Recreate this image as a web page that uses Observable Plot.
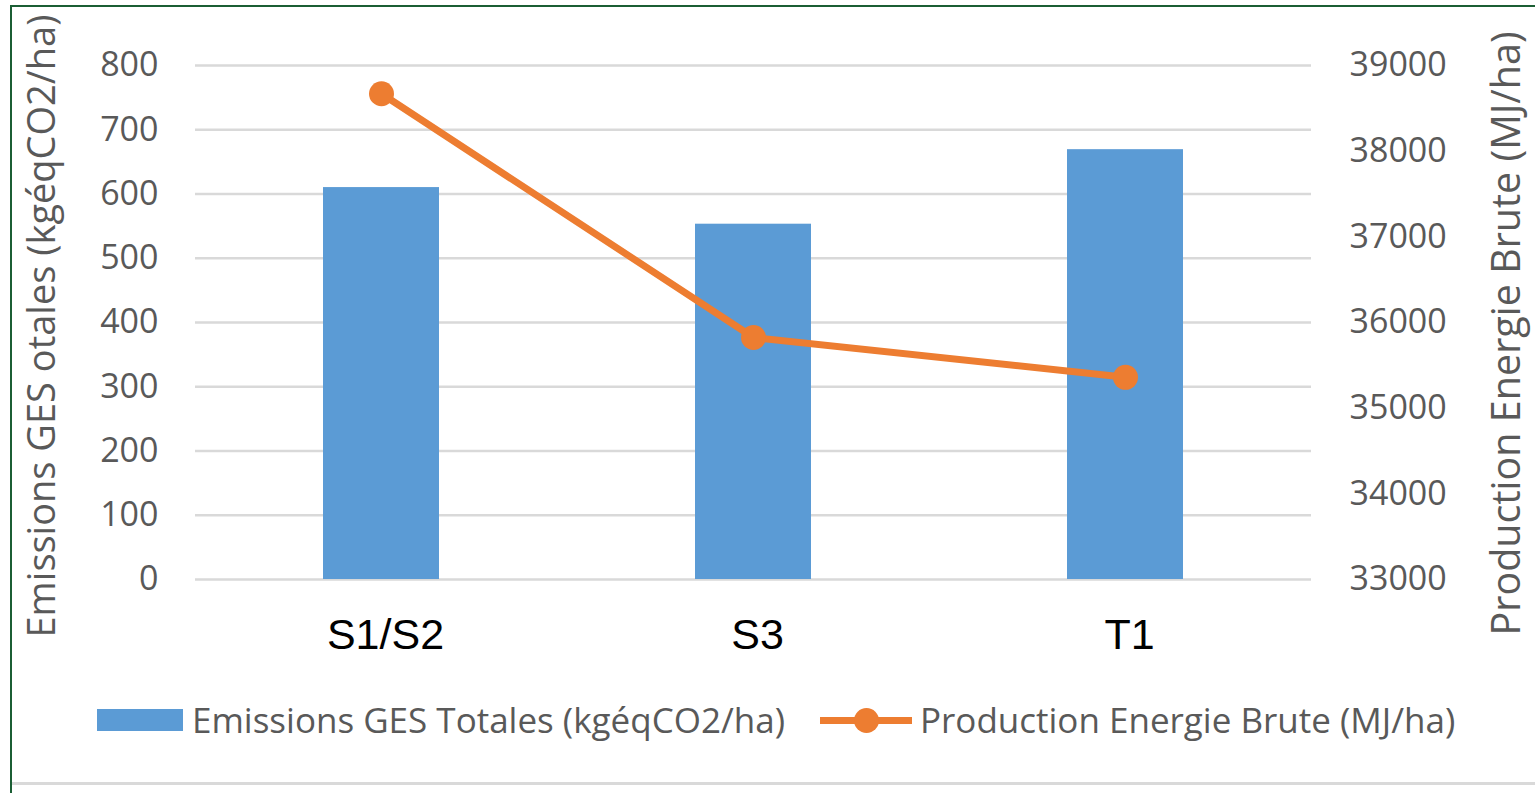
<!DOCTYPE html>
<html>
<head>
<meta charset="utf-8">
<script src="https://cdn.jsdelivr.net/npm/d3@7"></script>
<script src="https://cdn.jsdelivr.net/npm/@observablehq/plot@0.6"></script>
<style>
  html, body { margin: 0; padding: 0; background: #fff; overflow: hidden; }
  #page { position: relative; width: 1535px; height: 793px; overflow: hidden; background: #fff; }
  #frame { position: absolute; left: 10px; top: 5px; width: 1540px; height: 800px;
           border-left: 2.5px solid #1b5e34; border-top: 2.5px solid #1b5e34; box-sizing: border-box; }
  #chart { position: absolute; left: 0; top: 0; }
  #legend { position: absolute; left: 0; top: 680px; width: 1535px; height: 80px;
            font-family: "Open Sans", sans-serif; font-size: 35px; color: #595959; }
  #legend .lbl { position: absolute; top: 0; height: 80px; line-height: 80px; white-space: nowrap; }
  #legend .sw { position: absolute; }
  #footer { position: absolute; left: 12px; top: 782px; width: 1530px; height: 3px; background: #d9d9d9; }
</style>
</head>
<body>
<div id="page">
  <div id="chart"></div>
  <div id="legend"></div>
  <div id="footer"></div>
  <div id="frame"></div>
</div>
<script>
// Scenarios and their values
const categories = ["S1/S2", "S3", "T1"];
const emissions = [610, 553, 669];          // kgéqCO2/ha (left axis)
const energy = [38670, 35825, 35360];       // MJ/ha (right axis)
const emissionTicks = [0, 100, 200, 300, 400, 500, 600, 700, 800];
const energyTicks = [33000, 34000, 35000, 36000, 37000, 38000, 39000];
const leftTitle = "Emissions GES otales (kgéqCO2/ha)";
const rightTitle = "Production Energie Brute (MJ/ha)";
const legendBar = "Emissions GES Totales (kgéqCO2/ha)";
const legendLine = "Production Energie Brute (MJ/ha)";

const BLUE = "#5B9BD5";
const ORANGE = "#ED7D31";
const GREY = "#595959";
const TICK_FONT = "Open Sans";

// Secondary axis: map the energy domain onto the emissions domain
const leftDomain = [emissionTicks[0], emissionTicks[emissionTicks.length - 1]];
const rightDomain = [energyTicks[0], energyTicks[energyTicks.length - 1]];
const toLeft = v => leftDomain[0] + (v - rightDomain[0]) / (rightDomain[1] - rightDomain[0]) * (leftDomain[1] - leftDomain[0]);
const fromLeft = v => rightDomain[0] + (v - leftDomain[0]) / (leftDomain[1] - leftDomain[0]) * (rightDomain[1] - rightDomain[0]);

const rows = categories.map((c, i) => ({cat: c, emissions: emissions[i], energy: energy[i], energyY: toLeft(energy[i])}));

const chart = Plot.plot({
  width: 1535,
  height: 680,
  marginLeft: 195,
  marginRight: 224,
  marginTop: 65,
  marginBottom: 101,
  style: {background: "transparent", fontFamily: TICK_FONT, overflow: "visible"},
  x: {domain: categories, paddingInner: 0.688, paddingOuter: 0.344},
  y: {domain: leftDomain},
  marks: [
    Plot.ruleY(emissionTicks, {stroke: "#d9d9d9", strokeWidth: 2.5}),
    Plot.barY(rows, {x: "cat", y: "emissions", fill: BLUE}),
    Plot.line(rows, {x: "cat", y: "energyY", stroke: ORANGE, strokeWidth: 7, strokeLinejoin: "round"}),
    Plot.dot(rows, {x: "cat", y: "energyY", r: 12.5, fill: ORANGE, stroke: "none"}),
    Plot.axisY({ticks: emissionTicks, tickSize: 0, tickPadding: 37, label: null,
                fontSize: 34, fill: GREY, fontFamily: TICK_FONT}),
    Plot.axisY({anchor: "right", ticks: energyTicks.map(toLeft), tickFormat: d => String(Math.round(fromLeft(d))),
                tickSize: 0, tickPadding: 38, label: null, fontSize: 34, fill: GREY, fontFamily: TICK_FONT}),
    Plot.axisX({tickSize: 0, tickPadding: 39, label: null, fontSize: 43, fill: "#000",
                fontFamily: "Liberation Sans", dx: 4}),
    Plot.text([leftTitle], {text: d => d, frameAnchor: "bottom-left", rotate: -90, textAnchor: "start",
                            dx: -141, dy: 58, fontSize: 38, fill: GREY, fontFamily: TICK_FONT}),
    Plot.text([rightTitle], {text: d => d, frameAnchor: "bottom-right", rotate: -90, textAnchor: "start",
                             dx: 208, dy: 56, fontSize: 39.5, fill: GREY, fontFamily: TICK_FONT})
  ]
});
document.getElementById("chart").appendChild(chart);

// Legend below the plot
const legend = document.getElementById("legend");
legend.innerHTML = `
  <div class="sw" style="left:97px;top:29px;width:86px;height:22px;background:${BLUE}"></div>
  <div class="lbl" style="left:192px">${legendBar}</div>
  <div class="sw" style="left:820px;top:36.5px;width:92px;height:7px;background:${ORANGE}"></div>
  <div class="sw" style="left:853.5px;top:27.5px;width:25px;height:25px;border-radius:50%;background:${ORANGE}"></div>
  <div class="lbl" style="left:920px">${legendLine}</div>
`;
</script>
</body>
</html>
